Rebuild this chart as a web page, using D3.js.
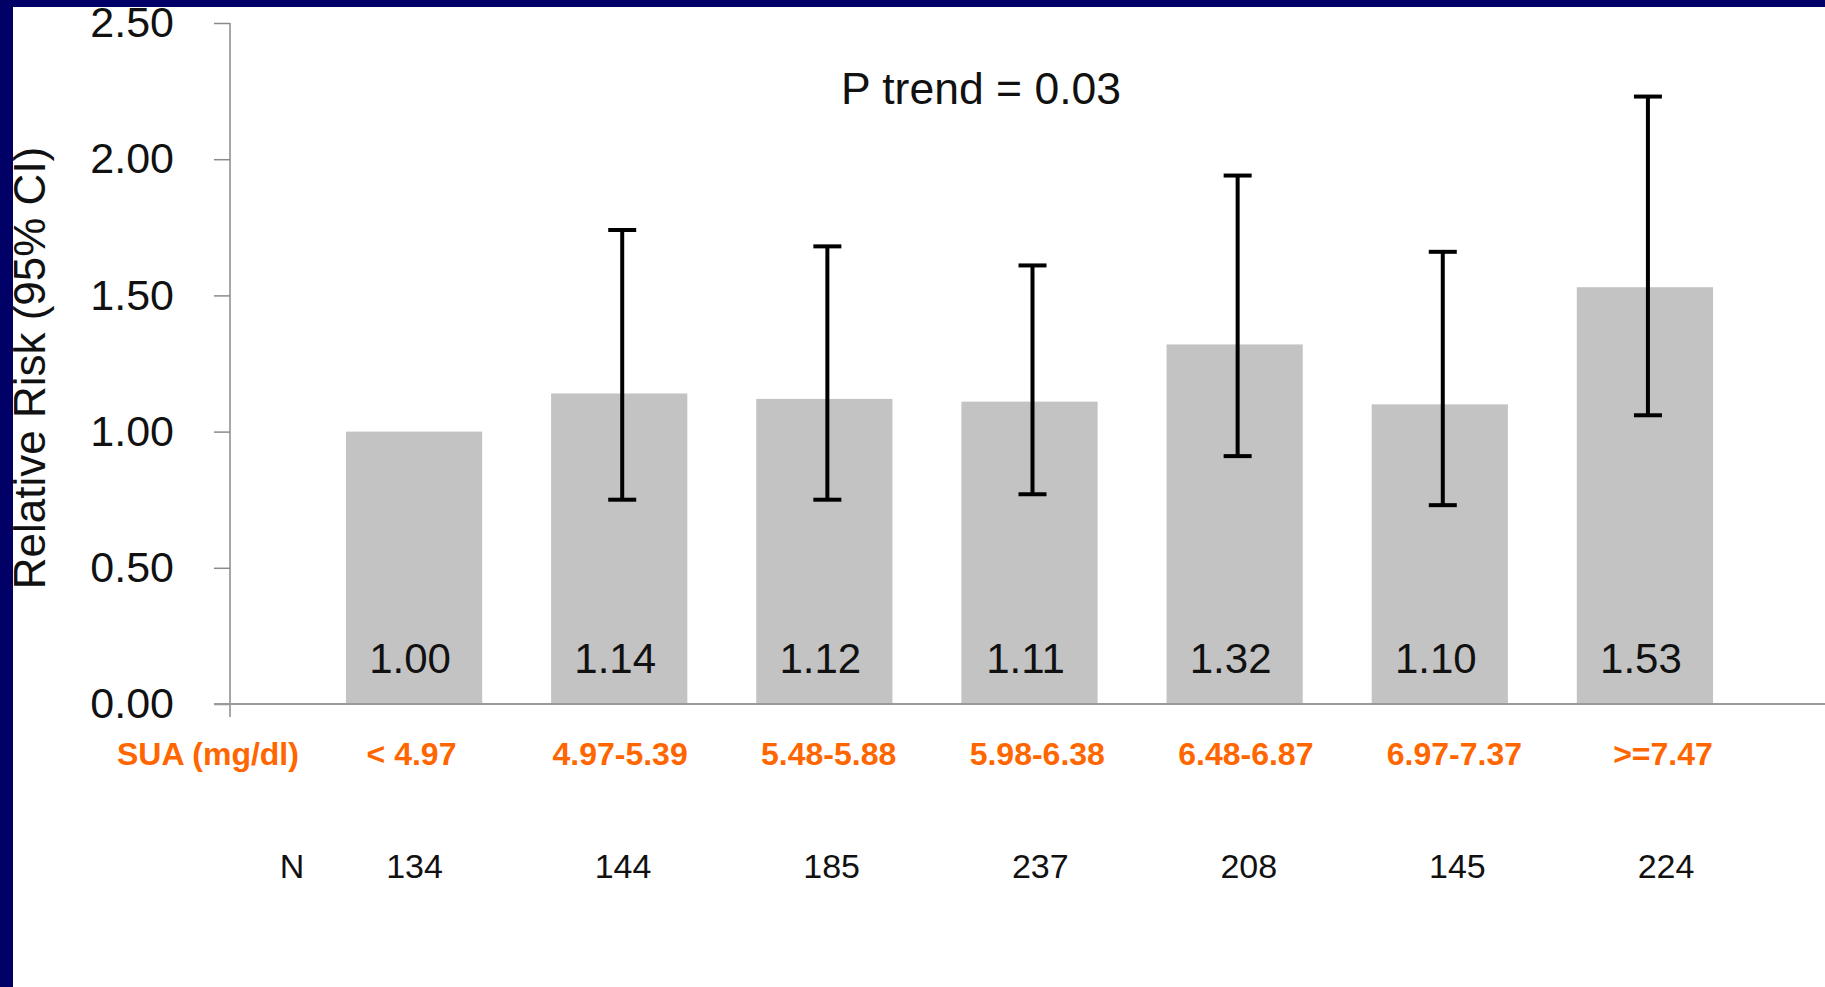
<!DOCTYPE html>
<html lang="en">
<head>
  <meta charset="UTF-8" />
  <title>Relative Risk by SUA</title>
  <script src="https://d3js.org/d3.v7.min.js"></script>
  <style>
    body { margin: 0; background: #fff; }
    svg { display: block; font-family: "Liberation Sans", Arial, sans-serif; }
    .bar-label { font-size: 42px; fill: #111; }
    .sua { font-size: 32px; font-weight: bold; fill: #ff6600; }
    .n-count { font-size: 34px; fill: #111; }
  </style>
</head>
<body>

<svg width="1825" height="987"></svg>

<script>
  // data
  const categories = ["< 4.97", "4.97-5.39", "5.48-5.88", "5.98-6.38", "6.48-6.87", "6.97-7.37", ">=7.47"];
  const rr = [1.00, 1.14, 1.12, 1.11, 1.32, 1.10, 1.53];
  const ciLow = [null, 0.75, 0.75, 0.77, 0.91, 0.73, 1.06];
  const ciHigh = [null, 1.74, 1.68, 1.61, 1.94, 1.66, 2.23];
  const nCounts = [134, 144, 185, 237, 208, 145, 224];
  const yTicks = [0, 0.5, 1, 1.5, 2, 2.5];

  const data = categories.map((c, i) => ({cat: c, rr: rr[i], lo: ciLow[i], hi: ciHigh[i], n: nCounts[i]}));

  const svg = d3.select("svg");
  const W = 1825, H = 987;

  svg.append("rect").attr("width", W).attr("height", H).attr("fill", "#fff");

  // navy slide frame
  svg.append("rect").attr("x", 0).attr("y", 0).attr("width", W).attr("height", 7).attr("fill", "#000066");
  svg.append("rect").attr("x", 0).attr("y", 0).attr("width", 13).attr("height", H).attr("fill", "#000066");

  const axisX = 230;
  const y = d3.scaleLinear().domain([0, 2.5]).range([704, 23]);

  const x = d3.scaleBand()
    .domain(categories)
    .range([311.5, 1747.5])
    .paddingInner(0.336)
    .paddingOuter(0.168);

  // table columns under the chart (separate text boxes on the slide)
  const col = d3.scalePoint().domain(categories).range([411.5, 1663]);

  // bars
  svg.selectAll(".bar")
    .data(data)
    .enter()
    .append("rect")
    .attr("class", "bar")
    .attr("x", d => x(d.cat))
    .attr("y", d => y(d.rr))
    .attr("width", x.bandwidth())
    .attr("height", d => y(0) - y(d.rr))
    .attr("fill", "#c3c3c3");

  // bar value labels
  svg.selectAll(".bar-label")
    .data(data)
    .enter()
    .append("text")
    .attr("class", "bar-label")
    .attr("x", d => x(d.cat) + x.bandwidth() / 2 - 4)
    .attr("y", y(0) - 31)
    .attr("text-anchor", "middle")
    .text(d => d3.format(".2f")(d.rr));

  // axes
  const yAxis = svg.append("g")
    .attr("transform", `translate(${axisX},0)`)
    .call(d3.axisLeft(y).tickValues(yTicks).tickFormat(d3.format(".2f")).tickSize(16).tickSizeOuter(0).tickPadding(40));
  yAxis.select(".domain").remove();
  yAxis.selectAll(".tick line").attr("stroke", "#8a8a8a").attr("stroke-width", 1.5);
  yAxis.selectAll(".tick text")
    .attr("fill", "#111")
    .style("font-size", "43px")
    .style("font-family", "'Liberation Sans', Arial, sans-serif");

  svg.append("line")
    .attr("x1", axisX).attr("x2", axisX)
    .attr("y1", y(2.5)).attr("y2", y(0) + 13)
    .attr("stroke", "#8a8a8a").attr("stroke-width", 1.5);

  svg.append("line")
    .attr("x1", axisX - 16).attr("x2", W)
    .attr("y1", y(0)).attr("y2", y(0))
    .attr("stroke", "#9a9a9a").attr("stroke-width", 2);

  // error bars (95% CI)
  const eb = data.filter(d => d.lo != null);
  const cx = d => x(d.cat) + x.bandwidth() / 2 + 3;
  const capW = 28;

  svg.selectAll(".ci")
    .data(eb)
    .enter()
    .append("line")
    .attr("x1", cx).attr("x2", cx)
    .attr("y1", d => y(d.hi)).attr("y2", d => y(d.lo))
    .attr("stroke", "#000").attr("stroke-width", 4);

  ["hi", "lo"].forEach(k => {
    svg.selectAll(".cap-" + k)
      .data(eb)
      .enter()
      .append("line")
      .attr("x1", d => cx(d) - capW / 2).attr("x2", d => cx(d) + capW / 2)
      .attr("y1", d => y(d[k])).attr("y2", d => y(d[k]))
      .attr("stroke", "#000").attr("stroke-width", 4);
  });

  // y axis title
  svg.append("text")
    .attr("transform", "translate(45,368) rotate(-90)")
    .attr("text-anchor", "middle")
    .style("font-size", "44px")
    .attr("fill", "#111")
    .text("Relative Risk (95% CI)");

  // p for trend
  svg.append("text")
    .attr("x", 981)
    .attr("y", 104)
    .attr("text-anchor", "middle")
    .style("font-size", "44.5px")
    .attr("fill", "#111")
    .text("P trend = 0.03");

  // SUA row
  svg.append("text")
    .attr("class", "sua")
    .attr("x", 117)
    .attr("y", 765)
    .text("SUA (mg/dl)");

  svg.selectAll(".sua-cat")
    .data(data)
    .enter()
    .append("text")
    .attr("class", "sua")
    .attr("x", d => col(d.cat))
    .attr("y", 765)
    .attr("text-anchor", "middle")
    .text(d => d.cat);

  // N row
  svg.append("text")
    .attr("class", "n-count")
    .attr("x", 292)
    .attr("y", 878)
    .attr("text-anchor", "middle")
    .text("N");

  svg.selectAll(".n-val")
    .data(data)
    .enter()
    .append("text")
    .attr("class", "n-count")
    .attr("x", d => col(d.cat) + 3)
    .attr("y", 878)
    .attr("text-anchor", "middle")
    .text(d => d.n);
</script>

</body>
</html>
